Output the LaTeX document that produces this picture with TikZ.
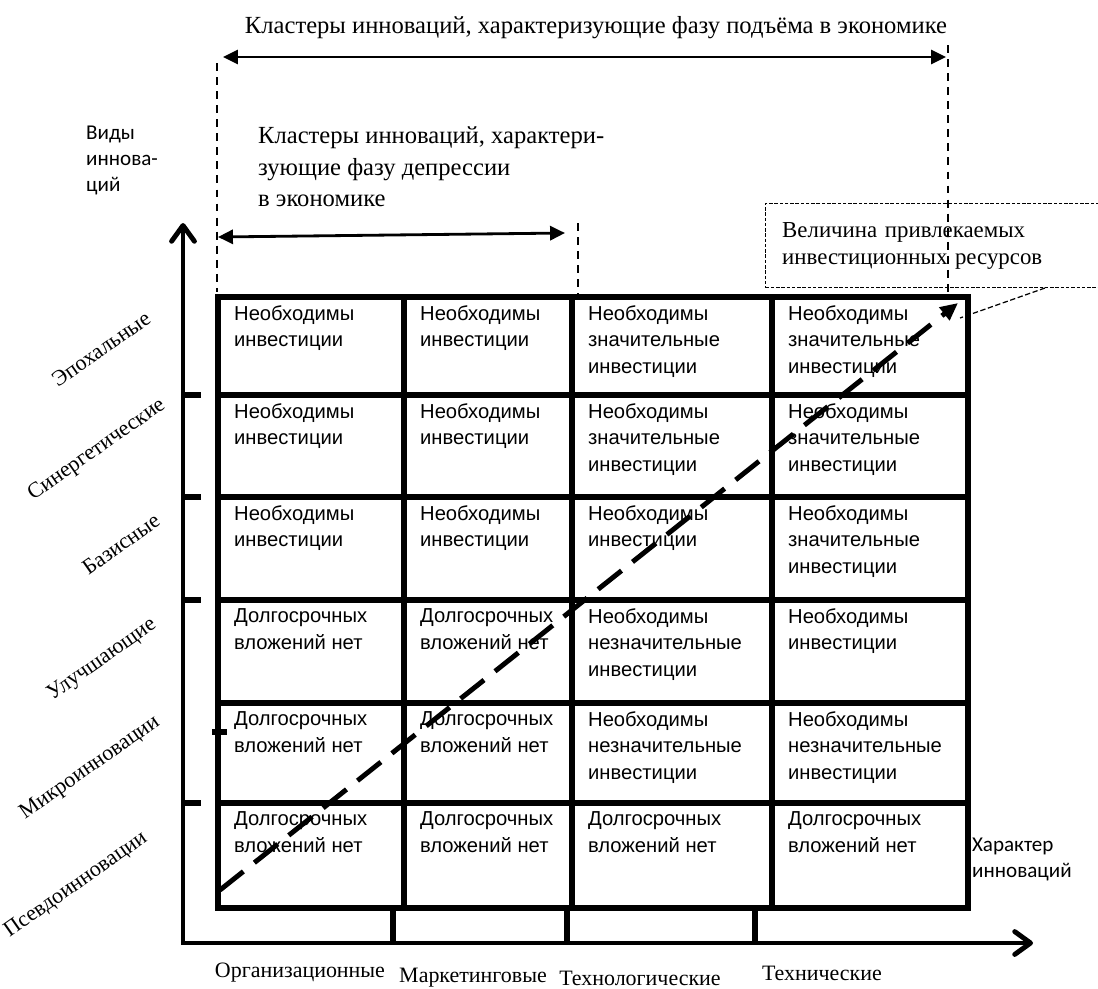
\documentclass[tikz,border=0pt]{standalone}
\usepackage{fontspec}
\setmainfont{Liberation Serif}
\setsansfont{Liberation Sans}
\newfontfamily\narrowfont{Carlito}
\usetikzlibrary{arrows.meta}

\def\needinv{Необходимы\\инвестиции}
\def\needbig{Необходимы\\значительные\\инвестиции}
\def\needsmall{Необходимы\\незначительные\\инвестиции}
\def\nolong{Долгосрочных\\вложений нет}

\tikzset{
  cell/.style={anchor=north west, align=left, inner xsep=9pt, inner ysep=4.5pt,
    font=\sffamily\fontsize{11.5}{15.3}\selectfont},
  kind/.style={rotate=35, inner sep=0pt, font=\fontsize{12.5}{15}\selectfont},
  sort/.style={font=\fontsize{12.5}{15}\selectfont},
  caption/.style={align=left, font=\fontsize{14}{18}\selectfont},
  axis/.style={line width=2.8pt, line join=miter},
  heavy/.style={line width=2.9pt},
  guide/.style={line width=0.7pt, dash pattern=on 4.5pt off 3.5pt},
  span/.style={line width=1.6pt, {Triangle[length=8.5pt,width=8pt]}-{Triangle[length=8.5pt,width=8pt]}},
  growth/.style={line width=2.8pt, dash pattern=on 17pt off 8pt, -{Triangle[length=10pt,width=9pt]}},
  callout/.style={draw, anchor=north west, align=left, line width=0.6pt,
    dash pattern=on 2pt off 1pt, text width=190pt, minimum height=48pt,
    inner xsep=9.5pt, font=\fontsize{13}{15.3}\selectfont},
}

\begin{document}
\begin{tikzpicture}[x=0.02cm,y=-0.02cm]
\useasboundingbox (0,0) rectangle (1098,988);

% axes
\coordinate (ytip) at (183,223);
\coordinate (origin) at (183,943);
\coordinate (xtip) at (1033,943);
\draw[axis, {Straight Barb[length=9pt,width=13pt,round]}-{Straight Barb[length=9pt,width=13pt,round]}]
  (ytip) -- (origin) -- (xtip);
\foreach \y in {395,497,600,803}
  \draw[heavy] (183,\y) -- (201,\y);
\draw[heavy] (212,732) -- (227,732);
\foreach \x in {393,567,755}
  \draw[heavy] (\x,910) -- (\x,943);

% table
\draw[heavy] (218,297) rectangle (968,908);
\foreach \x in {404,572,772}
  \draw[heavy] (\x,297) -- (\x,908);
\foreach \y in {395,497,600,703,803}
  \draw[heavy] (218,\y) -- (968,\y);

\foreach \t/\x [count=\c] in {\needinv/218,\needinv/404,\needbig/572,\needbig/772}
  \node[cell] (r6c\c) at (\x,297) {\t};
\foreach \t/\x [count=\c] in {\needinv/218,\needinv/404,\needbig/572,\needbig/772}
  \node[cell] (r5c\c) at (\x,395) {\t};
\foreach \t/\x [count=\c] in {\needinv/218,\needinv/404,\needinv/572,\needbig/772}
  \node[cell] (r4c\c) at (\x,497) {\t};
\foreach \t/\x [count=\c] in {\nolong/218,\nolong/404,\needsmall/572,\needinv/772}
  \node[cell] (r3c\c) at (\x,600) {\t};
\foreach \t/\x [count=\c] in {\nolong/218,\nolong/404,\needsmall/572,\needsmall/772}
  \node[cell] (r2c\c) at (\x,703) {\t};
\foreach \t/\x [count=\c] in {\nolong/218,\nolong/404,\nolong/572,\nolong/772}
  \node[cell] (r1c\c) at (\x,803) {\t};

% kinds of innovation
\node[kind] (k6) at (101,349) {Эпохальные};
\node[kind] (k5) at (97,450) {Синергетические};
\node[kind] (k4) at (121,544) {Базисные};
\node[kind] (k3) at (102,660) {Улучшающие};
\node[kind] (k2) at (90,768) {Микроинновации};
\node[kind] (k1) at (76,885) {Псевдоинновации};
\node[align=left, anchor=west, font=\narrowfont\fontsize{12}{14.8}\selectfont] (kinds) at (80,160)
  {Виды\\иннова-\\ций};

% character of innovation
\node[sort] (s1) at (300,973) {Организационные};
\node[sort] (s2) at (473,978) {Маркетинговые};
\node[sort] (s3) at (640,978) {Технологические};
\node[sort] (s4) at (822,973) {Технические};
\node[align=left, anchor=west, font=\narrowfont\fontsize{12}{14.8}\selectfont] (nature) at (966,859)
  {Характер\\инноваций};

% clusters
\node[caption] (rise) at (596,28) {Кластеры инноваций, характеризующие фазу подъёма в экономике};
\node[caption, anchor=west] (slump) at (252,167)
  {Кластеры инноваций, характери-\\зующие фазу депрессии\\в экономике};
\coordinate (riseL) at (223,57);
\coordinate (riseR) at (946,57);
\draw[span] (riseL) -- (riseR);
\coordinate (slumpL) at (218,237);
\coordinate (slumpR) at (565,233);
\draw[span] (slumpL) -- (slumpR);
\draw[guide] (217,63) -- (217,292);
\draw[guide] (948,45) -- (948,295);
\draw[guide] (578,223) -- (578,295);

% investment
\node[callout] (res) at (765,203) {Величина привлекаемых\\инвестиционных ресурсов};
\coordinate (low) at (220,890);
\coordinate (high) at (958,303);
\draw[growth] (low) -- (high);
\coordinate (lead) at (1045,288);
\coordinate (pointer) at (960,318);
\draw[line width=0.7pt, dash pattern=on 3pt off 1.5pt] (lead) -- (pointer);
\end{tikzpicture}
\end{document}
